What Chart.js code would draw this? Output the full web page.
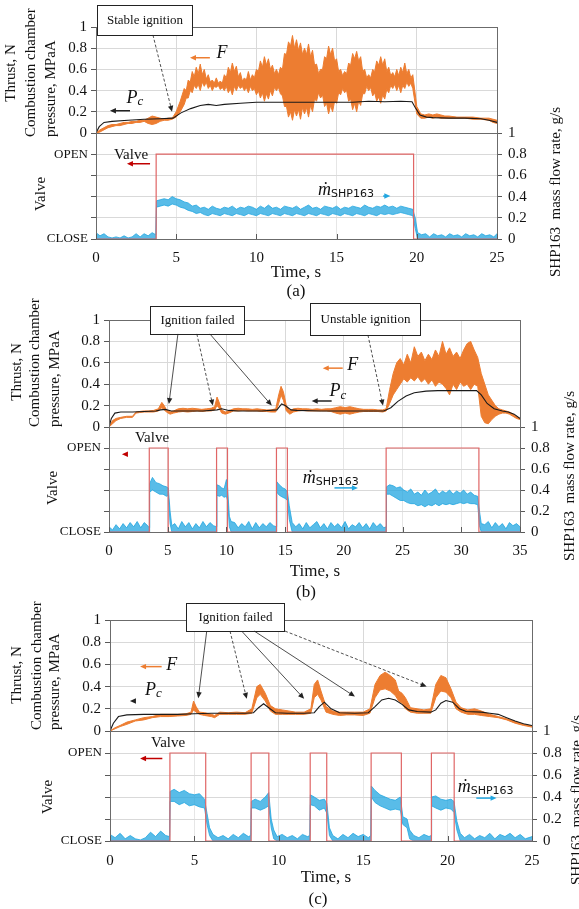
<!DOCTYPE html>
<html>
<head>
<meta charset="utf-8">
<script src="https://cdn.jsdelivr.net/npm/chart.js@4.4.0/dist/chart.umd.min.js"></script>
<style>
  body { margin: 0; background: #fff; }
  #wrap { position: relative; width: 579px; height: 909px; overflow: hidden; background: #fff; }
  #wrap canvas { position: absolute; left: 0; top: 0; }
</style>
</head>
<body>
<div id="wrap">
  <canvas id="aTop" width="579" height="909"></canvas>
  <canvas id="aBottom" width="579" height="909"></canvas>
  <canvas id="bTop" width="579" height="909"></canvas>
  <canvas id="bBottom" width="579" height="909"></canvas>
  <canvas id="cTop" width="579" height="909"></canvas>
  <canvas id="cBottom" width="579" height="909"></canvas>
</div>
<script>
/**
 * Firing tests (a), (b), (c): thrust F, chamber pressure Pc,
 * valve state and SHP163 mass flow rate against time.
 * Noisy signals are kept as [time, lower edge, upper edge].
 */

// ---------- tick labels ----------
const valveTickLabels = [['CLOSE', 0], ['OPEN', 0.8]];
const valveOpenLevel = 0.8;

// ---------- test (a) ----------
const pcTimeA = [0, 0.2, 0.5, 1, 2, 3, 4, 4.8, 5.3, 5.9, 6.5, 7, 7.5, 8, 9, 10, 12, 14, 16, 17, 18, 19, 19.7, 19.9, 20.2, 20.6, 21, 22, 23, 24, 24.5, 25];
const pcA = [0, 0.06, 0.1, 0.11, 0.12, 0.13, 0.135, 0.14, 0.19, 0.23, 0.26, 0.27, 0.26, 0.27, 0.28, 0.29, 0.29, 0.29, 0.29, 0.3, 0.295, 0.3, 0.295, 0.24, 0.17, 0.15, 0.145, 0.14, 0.14, 0.135, 0.12, 0.1];
const thrustA = [
  [0,0,0],[0.25,0.01,0.03],[0.5,0.03,0.05],[0.75,0.05,0.07],[1,0.06,0.08],[1.25,0.07,0.08],[1.5,0.07,0.09],[1.75,0.08,0.1],
  [2,0.09,0.1],[2.25,0.09,0.11],[2.5,0.1,0.11],[2.75,0.1,0.12],[3,0.11,0.12],[3.25,0.09,0.14],[3.5,0.08,0.16],[3.75,0.09,0.15],
  [4,0.11,0.14],[4.25,0.12,0.13],[4.5,0.12,0.14],[4.75,0.13,0.14],[5,0.15,0.2],[5.25,0.2,0.3],[5.5,0.27,0.42],
  [5.625,0.33,0.4],[5.75,0.33,0.5],[5.875,0.4,0.48],[6,0.38,0.58],[6.125,0.45,0.53],[6.25,0.42,0.62],[6.375,0.46,0.56],
  [6.5,0.4,0.65],[6.625,0.48,0.55],[6.75,0.44,0.6],[6.875,0.48,0.51],[7,0.42,0.55],[7.125,0.45,0.48],[7.25,0.4,0.5],[7.375,0.44,0.47],
  [7.5,0.43,0.52],[7.625,0.45,0.47],[7.75,0.41,0.49],[7.875,0.43,0.47],[8,0.4,0.55],[8.125,0.44,0.52],[8.25,0.38,0.62],[8.375,0.42,0.57],
  [8.5,0.36,0.66],[8.625,0.44,0.58],[8.75,0.4,0.63],[8.875,0.45,0.53],[9,0.42,0.57],[9.125,0.44,0.49],[9.25,0.4,0.52],[9.375,0.43,0.5],
  [9.5,0.38,0.58],[9.625,0.44,0.5],[9.75,0.4,0.55],[9.875,0.42,0.52],[10,0.36,0.6],[10.125,0.4,0.58],[10.25,0.33,0.68],[10.375,0.38,0.62],
  [10.5,0.3,0.72],[10.625,0.37,0.64],[10.75,0.32,0.7],[10.875,0.4,0.6],[11,0.35,0.64],[11.125,0.43,0.56],[11.25,0.4,0.6],[11.375,0.43,0.55],
  [11.5,0.37,0.62],[11.625,0.35,0.6],[11.75,0.25,0.75],[11.875,0.25,0.74],[12,0.15,0.86],[12.125,0.2,0.82],[12.25,0.12,0.92],[12.375,0.22,0.8],
  [12.5,0.16,0.88],[12.625,0.22,0.78],[12.75,0.13,0.85],[12.875,0.24,0.74],[13,0.18,0.8],[13.125,0.24,0.74],[13.25,0.15,0.84],[13.375,0.26,0.72],
  [13.5,0.2,0.78],[13.625,0.32,0.64],[13.75,0.3,0.65],[13.875,0.38,0.56],[14,0.33,0.6],[14.125,0.36,0.6],[14.25,0.25,0.72],[14.375,0.28,0.7],
  [14.5,0.18,0.82],[14.625,0.26,0.74],[14.75,0.2,0.8],[14.875,0.3,0.68],[15,0.28,0.7],[15.125,0.38,0.58],[15.25,0.36,0.6],[15.375,0.42,0.54],
  [15.5,0.38,0.58],[15.625,0.4,0.56],[15.75,0.3,0.66],[15.875,0.32,0.64],[16,0.22,0.75],[16.125,0.28,0.7],[16.25,0.2,0.77],[16.375,0.3,0.68],
  [16.5,0.26,0.72],[16.625,0.37,0.58],[16.75,0.37,0.6],[16.875,0.44,0.52],[17,0.4,0.55],[17.125,0.43,0.52],[17.25,0.35,0.6],[17.375,0.38,0.58],
  [17.5,0.3,0.68],[17.625,0.34,0.64],[17.75,0.28,0.72],[17.875,0.36,0.64],[18,0.32,0.7],[18.125,0.41,0.58],[18.25,0.38,0.62],[18.375,0.45,0.54],
  [18.5,0.42,0.57],[18.625,0.46,0.53],[18.75,0.4,0.6],[18.875,0.45,0.54],[19,0.38,0.62],[19.125,0.45,0.57],[19.25,0.42,0.66],[19.375,0.48,0.56],
  [19.5,0.44,0.6],[19.625,0.47,0.52],[19.75,0.42,0.55],
  [20,0.18,0.25],[20.25,0.14,0.18],[20.5,0.14,0.17],[20.75,0.15,0.18],[21,0.14,0.17],[21.25,0.15,0.18],[21.5,0.14,0.17],[21.75,0.14,0.16],
  [22,0.14,0.16],[22.5,0.14,0.15],[23,0.14,0.15],[23.5,0.13,0.15],[24,0.13,0.14],[24.5,0.12,0.14],[24.75,0.1,0.13],[25,0.09,0.12]
];
const valveTimeA = [0, 3.75, 19.8, 25];
const valveA = [0, 1, 0, 0];
const flowA = [
  [0,0,0.06],[0.25,0,0.03],[0.5,0,0.05],[0.75,0,0.02],[1,0,0.01],[1.25,0,0.02],[1.5,0,0.01],[1.75,0,0.03],[2,0,0.01],[2.25,0,0.02],
  [2.5,0,0.05],[2.75,0,0.02],[3,0,0.05],[3.25,0,0.03],[3.5,0,0.06],[3.73,0,0.04],
  [3.77,0.3,0.36],[4,0.31,0.37],[4.25,0.32,0.38],[4.5,0.31,0.37],[4.75,0.33,0.4],[5,0.32,0.38],[5.25,0.3,0.37],[5.5,0.29,0.35],
  [5.75,0.27,0.34],[6,0.26,0.31],[6.25,0.24,0.32],[6.5,0.25,0.29],[6.75,0.23,0.3],[7,0.22,0.28],[7.25,0.24,0.31],[7.5,0.23,0.29],
  [7.75,0.22,0.28],[8,0.24,0.3],[8.25,0.23,0.29],[8.5,0.22,0.31],[8.75,0.24,0.28],[9,0.23,0.3],[9.25,0.22,0.29],[9.5,0.24,0.31],
  [9.75,0.23,0.3],[10,0.22,0.28],[10.25,0.24,0.31],[10.5,0.23,0.29],[10.75,0.22,0.32],[11,0.24,0.29],[11.25,0.23,0.3],[11.5,0.22,0.28],
  [11.75,0.24,0.31],[12,0.23,0.3],[12.25,0.22,0.29],[12.5,0.24,0.31],[12.75,0.23,0.28],[13,0.22,0.3],[13.25,0.24,0.32],[13.5,0.23,0.29],
  [13.75,0.22,0.3],[14,0.24,0.28],[14.25,0.23,0.31],[14.5,0.22,0.3],[14.75,0.24,0.29],[15,0.23,0.31],[15.25,0.22,0.28],[15.5,0.24,0.3],
  [15.75,0.23,0.29],[16,0.22,0.31],[16.25,0.24,0.3],[16.5,0.23,0.29],[16.75,0.22,0.32],[17,0.24,0.3],[17.25,0.23,0.29],[17.5,0.22,0.31],
  [17.75,0.24,0.3],[18,0.23,0.32],[18.25,0.24,0.3],[18.5,0.23,0.31],[18.75,0.24,0.29],[19,0.25,0.31],[19.25,0.24,0.3],[19.5,0.23,0.29],
  [19.75,0.22,0.28],[19.9,0.1,0.2],[20.05,0,0.06],
  [20.3,0,0.04],[20.55,0,0.05],[20.8,0,0.02],[21.05,0,0.05],[21.3,0,0.03],[21.55,0,0.04],[21.8,0,0.02],[22.05,0,0.05],[22.3,0,0.03],
  [22.55,0,0.04],[22.8,0,0.02],[23.05,0,0.05],[23.3,0,0.03],[23.55,0,0.04],[23.8,0,0.02],[24.05,0,0.05],[24.3,0,0.03],[24.55,0,0.04],
  [24.8,0,0.02],[25,0,0.05]
];

// ---------- test (b) ----------
const pcTimeB = [0, 0.2, 0.5, 1, 2, 3, 4, 4.4, 4.8, 5.3, 6, 8, 9.2, 9.6, 10.2, 11, 13, 14.3, 14.7, 15.0, 15.5, 16, 18, 20, 22, 23.4, 24, 24.6, 25.3, 26, 27, 28, 30, 31.3, 31.7, 32.2, 32.8, 33.5, 34, 34.5, 35];
const pcB = [0, 0.08, 0.13, 0.14, 0.14, 0.145, 0.15, 0.16, 0.165, 0.15, 0.15, 0.15, 0.16, 0.17, 0.155, 0.15, 0.15, 0.16, 0.215, 0.2, 0.16, 0.155, 0.15, 0.15, 0.15, 0.15, 0.18, 0.24, 0.29, 0.32, 0.335, 0.34, 0.34, 0.34, 0.3, 0.22, 0.17, 0.15, 0.14, 0.12, 0.08];
const thrustB = [
  [0,0,0],[0.3,0.03,0.06],[0.6,0.06,0.08],[1,0.08,0.09],[1.5,0.09,0.1],[2,0.09,0.1],[2.3,0.13,0.14],[2.6,0.135,0.145],
  [3,0.14,0.15],[3.4,0.14,0.15],[3.8,0.14,0.155],[4.2,0.15,0.17],[4.5,0.18,0.23],[4.7,0.16,0.2],[4.9,0.14,0.16],[5.2,0.12,0.14],
  [5.5,0.13,0.15],[5.9,0.14,0.17],[6.3,0.145,0.175],[6.7,0.14,0.17],[7.1,0.145,0.175],[7.5,0.15,0.17],[7.9,0.145,0.165],[8.3,0.15,0.17],
  [8.7,0.15,0.175],[9,0.16,0.19],[9.2,0.2,0.28],[9.35,0.18,0.24],[9.6,0.13,0.16],[9.9,0.12,0.14],[10.2,0.13,0.15],[10.6,0.15,0.17],
  [11,0.15,0.175],[11.4,0.155,0.17],[11.8,0.15,0.17],[12.2,0.15,0.165],[12.6,0.15,0.17],[13,0.145,0.165],[13.4,0.145,0.16],[13.8,0.14,0.16],
  [14.2,0.14,0.17],[14.45,0.22,0.3],[14.65,0.3,0.38],[14.85,0.25,0.33],[15.1,0.15,0.2],[15.4,0.12,0.15],[15.7,0.14,0.17],[16.1,0.15,0.175],
  [16.5,0.155,0.17],[16.9,0.15,0.17],[17.3,0.15,0.165],[17.7,0.15,0.17],[18.1,0.15,0.165],[18.5,0.15,0.17],[18.9,0.145,0.17],[19.3,0.13,0.18],
  [19.7,0.12,0.19],[20.1,0.13,0.18],[20.5,0.12,0.19],[20.9,0.13,0.18],[21.3,0.14,0.17],[21.7,0.145,0.165],[22.1,0.145,0.165],[22.5,0.145,0.165],
  [22.9,0.145,0.16],[23.3,0.14,0.16],[23.6,0.15,0.17],[23.9,0.22,0.35],[24.2,0.3,0.5],[24.5,0.35,0.6],[24.8,0.4,0.64],[25.1,0.45,0.58],
  [25.4,0.42,0.68],[25.7,0.46,0.6],[26,0.43,0.75],[26.3,0.47,0.66],[26.6,0.42,0.7],[26.9,0.45,0.62],[27.2,0.4,0.68],[27.5,0.44,0.63],
  [27.8,0.38,0.72],[28.1,0.42,0.66],[28.4,0.4,0.8],[28.7,0.36,0.68],[29,0.3,0.74],[29.3,0.4,0.66],[29.6,0.35,0.7],[29.9,0.42,0.64],
  [30.2,0.38,0.72],[30.5,0.4,0.78],[30.8,0.35,0.8],[31.1,0.4,0.72],[31.4,0.38,0.65],[31.7,0.1,0.5],[32,0.04,0.4],[32.3,0.03,0.3],
  [32.6,0.07,0.25],[32.9,0.1,0.2],[33.2,0.12,0.17],[33.5,0.13,0.16],[33.8,0.13,0.15],[34.1,0.12,0.14],[34.4,0.1,0.12],[34.7,0.08,0.1],[35,0.07,0.08]
];
const valveTimeB = [0, 3.43, 5.04, 9.16, 10.09, 14.26, 15.19, 23.6, 31.5, 35];
const valveB = [0, 1, 0, 1, 0, 1, 0, 1, 0, 0];
const flowB = [
  [0,0,0.05],[0.3,0,0.02],[0.6,0,0.07],[0.9,0,0.03],[1.2,0,0.08],[1.5,0,0.04],[1.8,0,0.09],[2.1,0,0.05],[2.4,0,0.1],[2.7,0,0.04],
  [3,0,0.09],[3.3,0,0.06],[3.43,0,0.04],
  [3.46,0.38,0.46],[3.7,0.4,0.52],[4,0.38,0.47],[4.3,0.36,0.46],[4.6,0.36,0.44],[4.9,0.34,0.43],[5.05,0.35,0.42],[5.2,0.08,0.2],[5.35,0,0.06],
  [5.6,0,0.08],[5.9,0,0.03],[6.2,0,0.1],[6.5,0,0.05],[6.8,0,0.09],[7.1,0,0.03],[7.4,0,0.08],[7.7,0,0.04],[8,0,0.1],[8.3,0,0.05],
  [8.6,0,0.09],[8.9,0,0.06],[9.15,0,0.05],
  [9.18,0.35,0.45],[9.4,0.34,0.44],[9.6,0.35,0.42],[9.8,0.33,0.41],[10,0.34,0.5],[10.1,0.3,0.42],[10.25,0.05,0.15],[10.4,0,0.1],
  [10.7,0,0.09],[11,0,0.04],[11.3,0,0.08],[11.6,0,0.05],[11.9,0,0.1],[12.2,0,0.03],[12.5,0,0.09],[12.8,0,0.04],[13.1,0,0.08],
  [13.4,0,0.05],[13.7,0,0.09],[14,0,0.06],[14.25,0,0.05],
  [14.28,0.38,0.48],[14.5,0.35,0.45],[14.8,0.33,0.42],[15,0.32,0.41],[15.2,0.3,0.38],[15.35,0.12,0.25],[15.6,0,0.09],
  [15.9,0,0.05],[16.2,0,0.08],[16.5,0,0.03],[16.8,0,0.09],[17.1,0,0.04],[17.4,0,0.07],[17.7,0,0.1],[18,0,0.04],[18.3,0,0.08],
  [18.6,0,0.03],[18.9,0,0.09],[19.2,0,0.05],[19.5,0,0.08],[19.8,0,0.04],[20.1,0,0.1],[20.4,0,0.03],[20.7,0,0.07],[21,0,0.05],
  [21.3,0,0.09],[21.6,0,0.04],[21.9,0,0.08],[22.2,0,0.03],[22.5,0,0.09],[22.8,0,0.05],[23.1,0,0.08],[23.4,0,0.04],[23.6,0,0.05],
  [23.63,0.36,0.43],[23.9,0.36,0.45],[24.2,0.34,0.44],[24.5,0.32,0.42],[24.8,0.3,0.43],[25.1,0.3,0.4],[25.4,0.28,0.38],[25.7,0.27,0.41],
  [26,0.27,0.36],[26.3,0.25,0.38],[26.6,0.26,0.35],[26.9,0.24,0.4],[27.2,0.26,0.36],[27.5,0.25,0.38],[27.8,0.27,0.41],[28.1,0.25,0.36],
  [28.4,0.27,0.39],[28.7,0.26,0.37],[29,0.27,0.4],[29.3,0.26,0.36],[29.6,0.27,0.39],[29.9,0.28,0.37],[30.2,0.27,0.4],[30.5,0.28,0.36],
  [30.8,0.27,0.38],[31.1,0.27,0.35],[31.4,0.26,0.34],[31.55,0.06,0.2],[31.7,0,0.08],
  [32,0,0.07],[32.3,0,0.1],[32.6,0,0.04],[32.9,0,0.09],[33.2,0,0.05],[33.5,0,0.08],[33.8,0,0.03],[34.1,0,0.09],[34.4,0,0.06],
  [34.7,0,0.08],[35,0,0.05]
];

// ---------- test (c) ----------
const pcTimeC = [0, 0.2, 0.5, 1, 2, 3, 4, 5, 6, 7, 8, 8.5, 8.8, 9.1, 9.4, 9.8, 10.5, 11.5, 12.1, 12.4, 12.7, 13.1, 13.6, 14.5, 15.3, 15.7, 16.1, 16.5, 16.9, 17.3, 17.7, 18.2, 19, 19.3, 19.6, 19.9, 20.3, 20.7, 21.1, 22, 22.5, 23, 23.5, 24, 24.5, 25];
const pcC = [0, 0.07, 0.13, 0.145, 0.15, 0.15, 0.15, 0.155, 0.16, 0.16, 0.16, 0.165, 0.21, 0.245, 0.21, 0.165, 0.16, 0.16, 0.165, 0.22, 0.26, 0.2, 0.165, 0.16, 0.165, 0.22, 0.28, 0.295, 0.28, 0.24, 0.19, 0.175, 0.17, 0.19, 0.25, 0.275, 0.26, 0.2, 0.175, 0.17, 0.16, 0.15, 0.12, 0.09, 0.065, 0.05];
const thrustC = [
  [0,0,0],[0.3,0.02,0.03],[0.6,0.04,0.05],[1,0.06,0.08],[1.5,0.09,0.1],[2,0.1,0.12],[2.5,0.12,0.13],[3,0.13,0.15],
  [3.5,0.13,0.15],[4,0.135,0.15],[4.5,0.14,0.155],[4.8,0.15,0.17],[4.95,0.19,0.27],[5.1,0.17,0.22],[5.3,0.15,0.17],[5.6,0.14,0.165],
  [6,0.13,0.15],[6.2,0.12,0.14],[6.5,0.15,0.17],[7,0.15,0.165],[7.5,0.15,0.17],[8,0.15,0.165],[8.4,0.16,0.2],[8.7,0.3,0.4],
  [8.9,0.33,0.42],[9.2,0.27,0.34],[9.5,0.18,0.23],[9.8,0.15,0.2],[10.2,0.15,0.19],[10.6,0.15,0.18],[11,0.15,0.17],[11.5,0.15,0.17],
  [11.9,0.16,0.2],[12.1,0.3,0.42],[12.3,0.33,0.46],[12.5,0.28,0.36],[12.8,0.17,0.22],[13.2,0.15,0.18],[13.6,0.14,0.17],[14,0.145,0.17],
  [14.5,0.145,0.17],[15,0.14,0.17],[15.4,0.16,0.2],[15.7,0.3,0.42],[16,0.37,0.5],[16.3,0.38,0.53],[16.6,0.36,0.5],[16.9,0.32,0.46],
  [17.1,0.27,0.36],[17.3,0.25,0.34],[17.5,0.2,0.3],[17.8,0.17,0.21],[18.2,0.16,0.2],[18.6,0.16,0.19],[19,0.16,0.2],[19.3,0.3,0.42],
  [19.6,0.36,0.5],[19.9,0.35,0.48],[20.2,0.3,0.38],[20.5,0.2,0.26],[20.8,0.17,0.21],[21.2,0.15,0.19],[21.6,0.15,0.2],[22,0.14,0.18],
  [22.5,0.13,0.15],[23,0.12,0.13],[23.5,0.1,0.11],[24,0.07,0.085],[24.5,0.05,0.06],[25,0.035,0.045]
];
const valveTimeC = [0, 3.55, 5.67, 8.36, 9.41, 11.86, 12.84, 15.47, 17.26, 19.04, 20.39, 25];
const valveC = [0, 1, 0, 1, 0, 1, 0, 1, 0, 1, 0, 0];
const flowC = [
  [0,0,0.06],[0.3,0,0.03],[0.6,0,0.07],[0.9,0,0.02],[1.2,0,0.05],[1.5,0,0.02],[1.8,0,0.01],[2.1,0,0.03],[2.4,0,0.08],[2.7,0,0.04],
  [3,0,0.09],[3.3,0,0.05],[3.53,0,0.04],
  [3.56,0.36,0.45],[3.8,0.36,0.47],[4.1,0.33,0.44],[4.4,0.35,0.46],[4.7,0.32,0.43],[5,0.33,0.42],[5.3,0.31,0.43],[5.6,0.3,0.38],
  [5.75,0.15,0.25],[5.9,0.05,0.12],[6.1,0,0.06],
  [6.4,0,0.03],[6.7,0,0.05],[7,0,0.02],[7.3,0,0.06],[7.6,0,0.03],[7.9,0,0.07],[8.2,0,0.04],[8.34,0,0.05],
  [8.37,0.3,0.36],[8.6,0.3,0.38],[8.9,0.28,0.36],[9.2,0.3,0.4],[9.4,0.32,0.44],[9.55,0.12,0.2],[9.7,0.02,0.1],
  [9.9,0,0.04],[10.2,0,0.06],[10.5,0,0.03],[10.8,0,0.05],[11.1,0,0.02],[11.4,0,0.06],[11.7,0,0.04],[11.84,0,0.05],
  [11.87,0.33,0.42],[12.1,0.32,0.4],[12.4,0.28,0.37],[12.7,0.3,0.38],[12.85,0.25,0.34],[13,0.05,0.12],
  [13.2,0,0.05],[13.5,0,0.02],[13.8,0,0.06],[14.1,0,0.03],[14.4,0,0.07],[14.7,0,0.04],[15,0,0.06],[15.3,0,0.03],[15.45,0,0.05],
  [15.48,0.4,0.5],[15.7,0.35,0.46],[16,0.32,0.42],[16.3,0.3,0.4],[16.6,0.28,0.38],[16.9,0.29,0.37],[17.2,0.28,0.4],[17.35,0.15,0.22],
  [17.6,0.12,0.2],[17.75,0.02,0.1],
  [18,0,0.05],[18.3,0,0.03],[18.6,0,0.06],[18.9,0,0.04],[19.02,0,0.05],
  [19.05,0.32,0.4],[19.3,0.3,0.41],[19.6,0.28,0.38],[19.9,0.3,0.37],[20.2,0.29,0.38],[20.38,0.26,0.36],[20.55,0.1,0.18],[20.75,0,0.07],
  [21,0,0.03],[21.3,0,0.06],[21.6,0,0.02],[21.9,0,0.05],[22.2,0,0.03],[22.5,0,0.07],[22.8,0,0.02],[23.1,0,0.06],[23.4,0,0.04],
  [23.7,0,0.07],[24,0,0.03],[24.3,0,0.06],[24.6,0,0.02],[25,0,0.04]
];

// ---------- styling ----------
const colors = {
  thrust: '#ED7D31',
  pressure: '#1a1a1a',
  valve: '#E06666',
  valveArrow: '#C00000',
  flow: '#22A6E0',
  flowFill: 'rgba(34, 166, 224, 0.75)',
  grid: '#D9D9D9',
  axis: '#595959',
  frame: '#6b6b6b',
  text: '#111111'
};
const SERIF = "'Liberation Serif', 'DejaVu Serif', serif";
Chart.defaults.font.family = SERIF;
Chart.defaults.color = colors.text;

// rich text pieces for legend labels
const LABEL_F = [{ text: 'F', font: 'italic 18px ' + SERIF }];
const LABEL_PC = [{ text: 'P', font: 'italic 18px ' + SERIF }, { text: 'c', font: 'italic 13px ' + SERIF, dy: 4 }];
const LABEL_VALVE = [{ text: 'Valve', font: '15px ' + SERIF }];
const LABEL_MDOT = [{ text: '\u1E41', font: 'italic 18px ' + SERIF }, { text: 'SHP163', font: "11px 'DejaVu Sans', sans-serif", dy: 4 }];

const LEFT_W = 60;    // forced left axis width (labels are clipped to it)
const RIGHT_W = 45;   // forced right axis width
const FULL_W = 579, FULL_H = 909;

/**
 * Helpers to turn the arrays into Chart.js points
 */
function toBand(rows, col) {
  return rows.map(r => ({ x: r[0], y: r[col] }));
}
function toLine(times, values) {
  return times.map((t, i) => ({ x: t, y: values[i] }));
}
function toValve(times, states) {
  return times.map((t, i) => ({ x: t, y: states[i] ? valveOpenLevel : 0 }));
}
function fmt(v) {
  return String(+v.toFixed(1));
}

/**
 * Draw a run of text pieces with different fonts
 */
function drawRich(ctx, parts, x, y, align) {
  let w = 0;
  parts.forEach(p => { ctx.font = p.font; w += ctx.measureText(p.text).width; });
  let cx = align === 'left' ? x : x - w / 2;
  ctx.textAlign = 'left';
  ctx.textBaseline = 'middle';
  ctx.fillStyle = colors.text;
  parts.forEach(p => {
    ctx.font = p.font;
    ctx.fillText(p.text, cx, y + (p.dy || 0));
    cx += ctx.measureText(p.text).width;
  });
}

/**
 * Plot frame, text boxes, arrows and titles (one plugin per chart)
 */
function makeDeco(deco) {
  return {
    id: 'deco',
    afterDraw(chart) {
      const ctx = chart.ctx;
      const a = chart.chartArea;
      const px = t => chart.scales.x.getPixelForValue(t);
      const py = v => chart.scales.y.getPixelForValue(v);
      ctx.save();

      ctx.strokeStyle = colors.frame;
      ctx.lineWidth = 1;
      ctx.strokeRect(Math.round(a.left) + 0.5, Math.round(a.top) + 0.5,
        Math.round(a.right) - Math.round(a.left), Math.round(a.bottom) - Math.round(a.top));

      // short inward tick marks on the time axis
      if (deco.innerTicks) {
        ctx.strokeStyle = colors.axis;
        chart.scales.x.ticks.forEach(tk => {
          const x = Math.round(px(tk.value)) + 0.5;
          ctx.beginPath();
          ctx.moveTo(x, a.bottom);
          ctx.lineTo(x, a.bottom - 5);
          ctx.stroke();
        });
      }

      (deco.boxes || []).forEach(b => {
        const x0 = Math.round(px(b.t0)) + 0.5, x1 = Math.round(px(b.t1)) + 0.5;
        const y0 = Math.round(py(b.v1)) + 0.5, y1 = Math.round(py(b.v0)) + 0.5;
        ctx.fillStyle = '#fff';
        ctx.fillRect(x0, y0, x1 - x0, y1 - y0);
        ctx.strokeStyle = '#222';
        ctx.lineWidth = 1;
        ctx.strokeRect(x0, y0, x1 - x0, y1 - y0);
        ctx.fillStyle = colors.text;
        ctx.font = '13px ' + SERIF;
        ctx.textAlign = 'center';
        ctx.textBaseline = 'middle';
        ctx.fillText(b.text, (x0 + x1) / 2, (y0 + y1) / 2);
      });

      (deco.arrows || []).forEach(ar => {
        const x0 = px(ar.from[0]), y0 = py(ar.from[1]);
        const x1 = px(ar.to[0]), y1 = py(ar.to[1]);
        const ang = Math.atan2(y1 - y0, x1 - x0);
        const h = ar.head || 6;
        const c = Math.cos(ang), s = Math.sin(ang);
        ctx.strokeStyle = ctx.fillStyle = ar.color || '#222';
        ctx.lineWidth = ar.width || 0.8;
        ctx.setLineDash(ar.dash || []);
        ctx.beginPath();
        ctx.moveTo(x0, y0);
        ctx.lineTo(x1 - h * 0.8 * c, y1 - h * 0.8 * s);
        ctx.stroke();
        ctx.setLineDash([]);
        ctx.beginPath();
        ctx.moveTo(x1, y1);
        ctx.lineTo(x1 - h * c + h * 0.45 * s, y1 - h * s - h * 0.45 * c);
        ctx.lineTo(x1 - h * c - h * 0.45 * s, y1 - h * s + h * 0.45 * c);
        ctx.closePath();
        ctx.fill();
      });

      (deco.labels || []).forEach(l => drawRich(ctx, l.parts, px(l.t), py(l.v), l.align || 'center'));

      (deco.titles || []).forEach(ti => {
        ctx.save();
        ctx.translate(ti.x, ti.y);
        if (ti.rot) ctx.rotate(-Math.PI / 2);
        ctx.font = (ti.size || 15) + 'px ' + SERIF;
        ctx.fillStyle = colors.text;
        ctx.textAlign = ti.align || 'center';
        ctx.textBaseline = 'middle';
        ctx.fillText(ti.text, 0, 0);
        ctx.restore();
      });

      ctx.restore();
    }
  };
}

function baseOptions(padding) {
  return {
    responsive: false,
    animation: false,
    devicePixelRatio: 1,
    events: [],
    layout: { padding, autoPadding: false },
    plugins: { legend: { display: false }, tooltip: { enabled: false } },
    elements: { point: { radius: 0 }, line: { tension: 0 } }
  };
}

/**
 * Top chart: thrust band and chamber pressure
 */
function initTopChart(id, p) {
  const r = p.plot;
  const options = baseOptions({ left: r.left - LEFT_W, right: FULL_W - r.right, top: r.top, bottom: FULL_H - r.mid - 6 });
  options.scales = {
    x: {
      type: 'linear', min: 0, max: p.xMax,
      ticks: { display: false, stepSize: 5 },
      grid: { color: colors.grid, tickLength: 6, tickColor: colors.axis },
      border: { color: colors.axis },
      afterFit: s => { s.height = 6; }
    },
    y: {
      min: 0, max: 1,
      ticks: { stepSize: 0.2, padding: 4, font: { size: 15 }, callback: v => fmt(v) },
      grid: { color: colors.grid, tickLength: 5, tickColor: colors.axis },
      border: { color: colors.axis },
      afterFit: s => { s.width = LEFT_W; }
    }
  };
  return new Chart(document.getElementById(id), {
    type: 'line',
    data: {
      datasets: [
        { data: toLine(p.pcTime, p.pc), borderColor: colors.pressure, borderWidth: 1.1 },
        { data: toBand(p.thrust, 1), borderColor: colors.thrust, borderWidth: 1, fill: false },
        { data: toBand(p.thrust, 2), borderColor: colors.thrust, backgroundColor: colors.thrust, borderWidth: 1, fill: '-1' }
      ]
    },
    options,
    plugins: [makeDeco(p.topDeco)]
  });
}

/**
 * Bottom chart: valve state and mass flow band
 */
function initBottomChart(id, p) {
  const r = p.plot;
  const options = baseOptions({ left: r.left - LEFT_W, right: FULL_W - r.right - RIGHT_W, top: r.mid, bottom: FULL_H - r.bottom - 30 });
  options.scales = {
    x: {
      type: 'linear', min: 0, max: p.xMax,
      ticks: { stepSize: 5, padding: p.xPad, font: { size: 15 } },
      grid: { color: '#E6E6E6', drawTicks: false },
      border: { color: colors.axis },
      afterFit: s => { s.height = 30; }
    },
    y: {
      position: 'left', min: 0, max: 1,
      ticks: {
        stepSize: 0.2, padding: 3, font: { size: 13 },
        callback: v => {
          const hit = valveTickLabels.find(l => Math.abs(l[1] - v) < 1e-6);
          return hit ? hit[0] : '';
        }
      },
      grid: { color: colors.grid, tickLength: 5, tickColor: colors.axis },
      border: { color: colors.axis },
      afterFit: s => { s.width = LEFT_W; }
    },
    y2: {
      position: 'right', min: 0, max: 1,
      ticks: { stepSize: 0.2, padding: 6, font: { size: 15 }, callback: v => fmt(v) },
      grid: { drawOnChartArea: false, tickLength: 5, tickColor: colors.axis },
      border: { color: colors.axis },
      afterFit: s => { s.width = RIGHT_W; }
    }
  };
  return new Chart(document.getElementById(id), {
    type: 'line',
    data: {
      datasets: [
        { data: toValve(p.valveTime, p.valve), borderColor: colors.valve, borderWidth: 1.2, stepped: 'before' },
        { data: toBand(p.flow, 1), borderColor: colors.flow, borderWidth: 0.8, fill: false },
        { data: toBand(p.flow, 2), borderColor: colors.flow, backgroundColor: colors.flowFill, borderWidth: 0.8, fill: '-1' }
      ]
    },
    options,
    plugins: [makeDeco(Object.assign({ innerTicks: true }, p.bottomDeco))]
  });
}

// ---------- panels ----------
const panels = [
  {
    top: 'aTop', bottom: 'aBottom', xMax: 25, xPad: 10,
    plot: { left: 96, right: 497, top: 27, mid: 133, bottom: 239 },
    pcTime: pcTimeA, pc: pcA, thrust: thrustA, valveTime: valveTimeA, valve: valveA, flow: flowA,
    topDeco: {
      titles: [
        { text: 'Thrust, N', x: 11, y: 73, rot: true },
        { text: 'Combustion chamber', x: 31, y: 137, rot: true, align: 'left' },
        { text: 'pressure, MPaA', x: 51, y: 137, rot: true, align: 'left' }
      ],
      boxes: [{ text: 'Stable ignition', t0: 0.06, t1: 6.0, v0: 0.925, v1: 1.21 }],
      arrows: [
        { from: [3.55, 0.925], to: [4.74, 0.2], dash: [3, 2] },
        { from: [7.1, 0.71], to: [5.86, 0.71], color: colors.thrust, width: 1.5 },
        { from: [2.12, 0.21], to: [0.87, 0.21], width: 1.5 }
      ],
      labels: [
        { t: 7.85, v: 0.755, parts: LABEL_F },
        { t: 2.43, v: 0.33, parts: LABEL_PC }
      ]
    },
    bottomDeco: {
      titles: [
        { text: 'Valve', x: 41, y: 194, rot: true },
        { text: 'SHP163  mass flow rate, g/s', x: 556, y: 192, rot: true },
        { text: 'Time, s', x: 296, y: 273, size: 17 },
        { text: '(a)', x: 296, y: 292, size: 17 }
      ],
      arrows: [
        { from: [3.37, 0.71], to: [1.93, 0.71], color: colors.valveArrow, width: 1.5 },
        { from: [17.9, 0.405], to: [18.35, 0.405], color: colors.flow, width: 1.5 }
      ],
      labels: [
        { t: 2.18, v: 0.79, parts: LABEL_VALVE },
        { t: 13.84, v: 0.46, parts: LABEL_MDOT, align: 'left' }
      ]
    }
  },
  {
    top: 'bTop', bottom: 'bBottom', xMax: 35, xPad: 10,
    plot: { left: 109, right: 520, top: 320, mid: 427, bottom: 532 },
    pcTime: pcTimeB, pc: pcB, thrust: thrustB, valveTime: valveTimeB, valve: valveB, flow: flowB,
    topDeco: {
      titles: [
        { text: 'Thrust, N', x: 17, y: 372, rot: true },
        { text: 'Combustion chamber', x: 35, y: 427, rot: true, align: 'left' },
        { text: 'pressure, MPaA', x: 55, y: 427, rot: true, align: 'left' }
      ],
      boxes: [
        { text: 'Ignition failed', t0: 3.49, t1: 11.48, v0: 0.87, v1: 1.13 },
        { text: 'Unstable ignition', t0: 17.1, t1: 26.5, v0: 0.86, v1: 1.16 }
      ],
      arrows: [
        { from: [5.87, 0.87], to: [5.1, 0.215] },
        { from: [7.48, 0.87], to: [8.84, 0.2], dash: [3, 2] },
        { from: [8.59, 0.87], to: [13.86, 0.2] },
        { from: [22.05, 0.86], to: [23.33, 0.2], dash: [3, 2] },
        { from: [19.9, 0.55], to: [18.2, 0.55], color: colors.thrust, width: 1.5 },
        { from: [18.96, 0.243], to: [17.26, 0.243], width: 1.5 }
      ],
      labels: [
        { t: 20.75, v: 0.58, parts: LABEL_F },
        { t: 19.5, v: 0.33, parts: LABEL_PC }
      ]
    },
    bottomDeco: {
      titles: [
        { text: 'Valve', x: 53, y: 488, rot: true },
        { text: 'SHP163  mass flow rate, g/s', x: 570, y: 476, rot: true },
        { text: 'Time, s', x: 315, y: 572, size: 17 },
        { text: '(b)', x: 306, y: 593, size: 17 }
      ],
      arrows: [
        { from: [1.45, 0.74], to: [1.1, 0.74], color: colors.valveArrow, width: 1.5 },
        { from: [19.2, 0.42], to: [21.2, 0.42], color: colors.flow, width: 1.5 }
      ],
      labels: [
        { t: 3.66, v: 0.89, parts: LABEL_VALVE },
        { t: 16.5, v: 0.51, parts: LABEL_MDOT, align: 'left' }
      ]
    }
  },
  {
    top: 'cTop', bottom: 'cBottom', xMax: 25, xPad: 11,
    plot: { left: 110, right: 532, top: 620, mid: 731, bottom: 841 },
    pcTime: pcTimeC, pc: pcC, thrust: thrustC, valveTime: valveTimeC, valve: valveC, flow: flowC,
    topDeco: {
      titles: [
        { text: 'Thrust, N', x: 17, y: 675, rot: true },
        { text: 'Combustion chamber', x: 37, y: 730, rot: true, align: 'left' },
        { text: 'pressure, MPaA', x: 55, y: 730, rot: true, align: 'left' }
      ],
      boxes: [{ text: 'Ignition failed', t0: 4.5, t1: 10.3, v0: 0.9, v1: 1.15 }],
      arrows: [
        { from: [5.73, 0.9], to: [5.23, 0.296] },
        { from: [7.11, 0.9], to: [8.1, 0.29], dash: [3, 2] },
        { from: [7.8, 0.9], to: [11.5, 0.29] },
        { from: [8.55, 0.9], to: [14.51, 0.31] },
        { from: [10.37, 0.9], to: [18.76, 0.4], dash: [3, 2] },
        { from: [3.06, 0.58], to: [1.78, 0.58], color: colors.thrust, width: 1.5 },
        { from: [1.45, 0.27], to: [1.18, 0.27], width: 1.5 }
      ],
      labels: [
        { t: 3.66, v: 0.59, parts: LABEL_F },
        { t: 2.57, v: 0.37, parts: LABEL_PC }
      ]
    },
    bottomDeco: {
      titles: [
        { text: 'Valve', x: 48, y: 797, rot: true },
        { text: 'SHP163  mass flow rate, g/s', x: 577, y: 800, rot: true },
        { text: 'Time, s', x: 326, y: 878, size: 17 },
        { text: '(c)', x: 318, y: 900, size: 17 }
      ],
      arrows: [
        { from: [3.1, 0.75], to: [1.78, 0.75], color: colors.valveArrow, width: 1.5 },
        { from: [21.7, 0.39], to: [22.9, 0.39], color: colors.flow, width: 1.5 }
      ],
      labels: [
        { t: 3.44, v: 0.89, parts: LABEL_VALVE },
        { t: 20.6, v: 0.49, parts: LABEL_MDOT, align: 'left' }
      ]
    }
  }
];

panels.forEach(p => {
  initTopChart(p.top, p);
  initBottomChart(p.bottom, p);
});
</script>
</body>
</html>
